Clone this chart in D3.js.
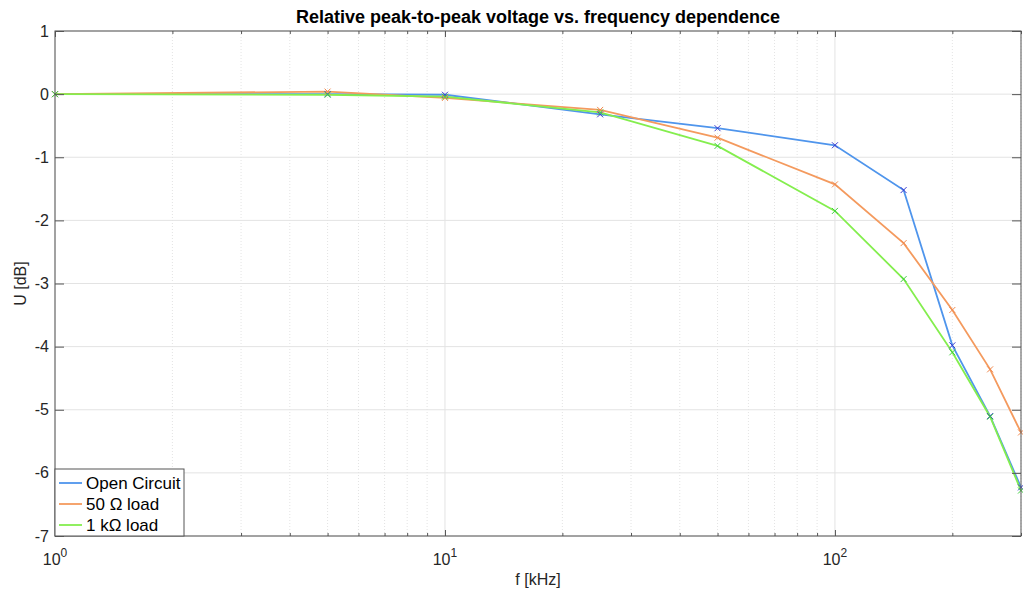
<!DOCTYPE html>
<html>
<head>
<meta charset="utf-8">
<script src="https://cdn.jsdelivr.net/npm/d3@7"></script>
<style>
  body { margin: 0; background: #fff; }
  svg { font-family: "Liberation Sans", Arial, sans-serif; }
</style>
</head>
<body>
<svg id="chart" width="1023" height="599"></svg>
<script>
const freqs = [1, 5, 10, 25, 50, 100, 150, 200, 250, 300];
const openCircuit = [0, 0, -0.01, -0.32, -0.54, -0.81, -1.52, -3.98, -5.10, -6.23];
const load50 = [0, 0.04, -0.06, -0.25, -0.69, -1.43, -2.36, -3.42, -4.36, -5.36];
const load1k = [0, -0.01, -0.04, -0.29, -0.82, -1.85, -2.93, -4.09, -5.11, -6.28];
const yTicks = [1, 0, -1, -2, -3, -4, -5, -6, -7];
const decades = [1, 10, 100];

const series = [
  { name: 'Open Circuit', values: openCircuit, line: '#4f95ec', marker: '#3a3ad0' },
  { name: '50 \u03A9 load', values: load50, line: '#f49a5e', marker: '#f08a50' },
  { name: '1 k\u03A9 load', values: load1k, line: '#84ee4e', marker: '#3fcf3f' }
];

const svg = d3.select('#chart');
const pLeft = 55, pRight = 1021, pTop = 31, pBottom = 536;

const x = d3.scaleLog().domain([1, 300]).range([pLeft, pRight]);
const y = d3.scaleLinear().domain([-7, 1]).range([pBottom, pTop]);

const minorTicks = [];
[1, 10, 100].forEach(d => {
  for (let k = 2; k <= 9; k++) {
    if (d * k <= 300) minorTicks.push(d * k);
  }
});

// grid
const grid = svg.append('g');
grid.selectAll('line.minor')
  .data(minorTicks)
  .enter().append('line')
  .attr('x1', d => x(d)).attr('x2', d => x(d))
  .attr('y1', pTop).attr('y2', pBottom)
  .attr('stroke', '#dcdcdc').attr('stroke-width', 0.8)
  .attr('stroke-dasharray', '1,2');
grid.selectAll('line.vmaj')
  .data(decades)
  .enter().append('line')
  .attr('x1', d => x(d)).attr('x2', d => x(d))
  .attr('y1', pTop).attr('y2', pBottom)
  .attr('stroke', '#e3e3e3').attr('stroke-width', 1);
grid.selectAll('line.hmaj')
  .data(yTicks)
  .enter().append('line')
  .attr('x1', pLeft).attr('x2', pRight)
  .attr('y1', d => y(d)).attr('y2', d => y(d))
  .attr('stroke', '#e3e3e3').attr('stroke-width', 1);

// lines
const line = d3.line()
  .x((d, i) => x(freqs[i]))
  .y(d => y(d));

series.forEach(s => {
  svg.append('path')
    .datum(s.values)
    .attr('fill', 'none')
    .attr('stroke', s.line)
    .attr('stroke-width', 1.8)
    .attr('d', line);
});

series.forEach(s => {
  const g = svg.append('g');
  s.values.forEach((v, i) => {
    const cx = x(freqs[i]), cy = y(v), r = 3;
    g.append('path')
      .attr('d', `M${cx - r},${cy - r}L${cx + r},${cy + r}M${cx - r},${cy + r}L${cx + r},${cy - r}`)
      .attr('stroke', s.marker)
      .attr('stroke-width', 1)
      .attr('fill', 'none');
  });
});

// axes box
const axisColor = '#555';
svg.append('rect')
  .attr('x', pLeft).attr('y', pTop)
  .attr('width', pRight - pLeft).attr('height', pBottom - pTop)
  .attr('fill', 'none').attr('stroke', axisColor).attr('stroke-width', 1);

const xAxisB = d3.axisBottom(x).tickValues(decades.concat(minorTicks)).tickSizeInner(-6).tickSizeOuter(0).tickFormat('');
const xAxisT = d3.axisTop(x).tickValues(decades.concat(minorTicks)).tickSizeInner(-6).tickSizeOuter(0).tickFormat('');
const yAxisL = d3.axisLeft(y).tickValues(yTicks).tickSizeInner(-9).tickSizeOuter(0).tickFormat('');
const yAxisR = d3.axisRight(y).tickValues(yTicks).tickSizeInner(-9).tickSizeOuter(0).tickFormat('');

[[xAxisB, `translate(0,${pBottom})`], [xAxisT, `translate(0,${pTop})`]].forEach(([ax, tr]) => {
  const g = svg.append('g').attr('transform', tr).call(ax);
  g.select('.domain').remove();
  g.selectAll('line').attr('stroke', axisColor);
  g.selectAll('.tick line').filter(d => minorTicks.includes(d))
    .attr('y2', function() { return +d3.select(this).attr('y2') > 0 ? 3 : -3; });
});
[[yAxisL, `translate(${pLeft},0)`], [yAxisR, `translate(${pRight},0)`]].forEach(([ax, tr]) => {
  const g = svg.append('g').attr('transform', tr).call(ax);
  g.select('.domain').remove();
  g.selectAll('line').attr('stroke', axisColor);
});

// y labels
svg.selectAll('text.ylab')
  .data(yTicks)
  .enter().append('text')
  .attr('x', pLeft - 6)
  .attr('y', d => y(d))
  .attr('dy', '0.35em')
  .attr('text-anchor', 'end')
  .attr('font-size', 16)
  .attr('fill', '#262626')
  .text(d => d);

// x labels with superscript
decades.forEach((d, i) => {
  const t = svg.append('text')
    .attr('x', x(d))
    .attr('y', pBottom + 29)
    .attr('text-anchor', 'middle')
    .attr('font-size', 16)
    .attr('fill', '#262626');
  t.append('tspan').text('10');
  t.append('tspan').attr('dy', -8).attr('font-size', 12).text(i);
});

// title and axis labels
svg.append('text')
  .attr('x', (pLeft + pRight) / 2)
  .attr('y', 23)
  .attr('text-anchor', 'middle')
  .attr('font-size', 18)
  .attr('font-weight', 'bold')
  .attr('fill', '#000')
  .text('Relative peak-to-peak voltage vs. frequency dependence');

svg.append('text')
  .attr('x', (pLeft + pRight) / 2)
  .attr('y', 585)
  .attr('text-anchor', 'middle')
  .attr('font-size', 16)
  .attr('fill', '#262626')
  .text('f [kHz]');

svg.append('text')
  .attr('transform', `translate(26,${(pTop + pBottom) / 2}) rotate(-90)`)
  .attr('text-anchor', 'middle')
  .attr('font-size', 16)
  .attr('fill', '#262626')
  .text('U [dB]');

// legend
const legend = svg.append('g');
legend.append('rect')
  .attr('x', pLeft).attr('y', 469)
  .attr('width', 129).attr('height', pBottom - 469)
  .attr('fill', '#fff').attr('stroke', axisColor).attr('stroke-width', 1);
series.forEach((s, i) => {
  const ly = 483 + i * 21;
  legend.append('line')
    .attr('x1', 59).attr('x2', 82)
    .attr('y1', ly).attr('y2', ly)
    .attr('stroke', s.line).attr('stroke-width', 1.8);
  legend.append('text')
    .attr('x', 86).attr('y', ly)
    .attr('dy', '0.35em')
    .attr('font-size', 17)
    .attr('fill', '#000')
    .text(s.name);
});
</script>
</body>
</html>
